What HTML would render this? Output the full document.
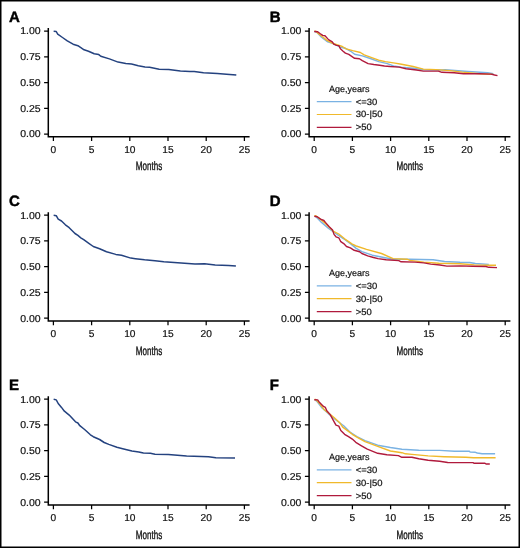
<!DOCTYPE html><html><head><meta charset="utf-8"><style>html,body{margin:0;padding:0;background:#fff;}svg{display:block;will-change:transform;text-rendering:geometricPrecision;}text{font-family:"Liberation Sans",sans-serif;fill:#111;stroke:#111;stroke-width:0.2px;}</style></head><body>
<svg width="520" height="548" viewBox="0 0 520 548">
<rect x="0" y="0" width="520" height="548" fill="#fff"/>
<g transform="translate(0,0)">
<path d="M48.3 28V136.8H249.6" fill="none" stroke="#000" stroke-width="1.5"/>
<path d="M44.1 31H48.3M44.1 56.75H48.3M44.1 82.5H48.3M44.1 108.25H48.3M44.1 134H48.3M53.4 136.8V141M91.6 136.8V141M129.8 136.8V141M168 136.8V141M206.2 136.8V141M244.4 136.8V141" fill="none" stroke="#000" stroke-width="1.25"/>
<text transform="translate(40.6,34.4) scale(1.05,1)" font-size="10" text-anchor="end">1.00</text>
<text transform="translate(40.6,60.15) scale(1.05,1)" font-size="10" text-anchor="end">0.75</text>
<text transform="translate(40.6,85.9) scale(1.05,1)" font-size="10" text-anchor="end">0.50</text>
<text transform="translate(40.6,111.65) scale(1.05,1)" font-size="10" text-anchor="end">0.25</text>
<text transform="translate(40.6,137.4) scale(1.05,1)" font-size="10" text-anchor="end">0.00</text>
<text transform="translate(53.4,153.2) scale(1.02,1)" font-size="10" text-anchor="middle">0</text>
<text transform="translate(91.6,153.2) scale(1.02,1)" font-size="10" text-anchor="middle">5</text>
<text transform="translate(129.8,153.2) scale(1.02,1)" font-size="10" text-anchor="middle">10</text>
<text transform="translate(168,153.2) scale(1.02,1)" font-size="10" text-anchor="middle">15</text>
<text transform="translate(206.2,153.2) scale(1.02,1)" font-size="10" text-anchor="middle">20</text>
<text transform="translate(244.4,153.2) scale(1.02,1)" font-size="10" text-anchor="middle">25</text>
<text transform="translate(149,170.4) scale(0.67,1)" font-size="12" text-anchor="middle" style="stroke-width:0.35px">Months</text>
<text x="9" y="21.9" font-size="15" font-weight="bold" fill="#000" style="fill:#000;stroke:#000;stroke-width:0.45px">A</text>
</g>
<g transform="translate(260.8,0)">
<path d="M48.3 28V136.8H249.6" fill="none" stroke="#000" stroke-width="1.5"/>
<path d="M44.1 31H48.3M44.1 56.75H48.3M44.1 82.5H48.3M44.1 108.25H48.3M44.1 134H48.3M53.4 136.8V141M91.6 136.8V141M129.8 136.8V141M168 136.8V141M206.2 136.8V141M244.4 136.8V141" fill="none" stroke="#000" stroke-width="1.25"/>
<text transform="translate(40.6,34.4) scale(1.05,1)" font-size="10" text-anchor="end">1.00</text>
<text transform="translate(40.6,60.15) scale(1.05,1)" font-size="10" text-anchor="end">0.75</text>
<text transform="translate(40.6,85.9) scale(1.05,1)" font-size="10" text-anchor="end">0.50</text>
<text transform="translate(40.6,111.65) scale(1.05,1)" font-size="10" text-anchor="end">0.25</text>
<text transform="translate(40.6,137.4) scale(1.05,1)" font-size="10" text-anchor="end">0.00</text>
<text transform="translate(53.4,153.2) scale(1.02,1)" font-size="10" text-anchor="middle">0</text>
<text transform="translate(91.6,153.2) scale(1.02,1)" font-size="10" text-anchor="middle">5</text>
<text transform="translate(129.8,153.2) scale(1.02,1)" font-size="10" text-anchor="middle">10</text>
<text transform="translate(168,153.2) scale(1.02,1)" font-size="10" text-anchor="middle">15</text>
<text transform="translate(206.2,153.2) scale(1.02,1)" font-size="10" text-anchor="middle">20</text>
<text transform="translate(244.4,153.2) scale(1.02,1)" font-size="10" text-anchor="middle">25</text>
<text transform="translate(149,170.4) scale(0.67,1)" font-size="12" text-anchor="middle" style="stroke-width:0.35px">Months</text>
<text x="9" y="21.9" font-size="15" font-weight="bold" fill="#000" style="fill:#000;stroke:#000;stroke-width:0.45px">B</text>
<text x="68.2" y="91.8" font-size="9">Age,years</text>
<path d="M56 101.7H90.7" stroke="#7ab2e3" stroke-width="1.2"/>
<text transform="translate(95,104.6) scale(1.05,1)" font-size="9">&lt;=30</text>
<path d="M56 114.5H90.7" stroke="#f0b92b" stroke-width="1.2"/>
<text transform="translate(95,117.4) scale(1.05,1)" font-size="9">30-|50</text>
<path d="M56 127.4H90.7" stroke="#b01a3c" stroke-width="1.2"/>
<text transform="translate(95,130.3) scale(1.05,1)" font-size="9">&gt;50</text>
</g>
<g transform="translate(0,184.2)">
<path d="M48.3 28V136.8H249.6" fill="none" stroke="#000" stroke-width="1.5"/>
<path d="M44.1 31H48.3M44.1 56.75H48.3M44.1 82.5H48.3M44.1 108.25H48.3M44.1 134H48.3M53.4 136.8V141M91.6 136.8V141M129.8 136.8V141M168 136.8V141M206.2 136.8V141M244.4 136.8V141" fill="none" stroke="#000" stroke-width="1.25"/>
<text transform="translate(40.6,34.4) scale(1.05,1)" font-size="10" text-anchor="end">1.00</text>
<text transform="translate(40.6,60.15) scale(1.05,1)" font-size="10" text-anchor="end">0.75</text>
<text transform="translate(40.6,85.9) scale(1.05,1)" font-size="10" text-anchor="end">0.50</text>
<text transform="translate(40.6,111.65) scale(1.05,1)" font-size="10" text-anchor="end">0.25</text>
<text transform="translate(40.6,137.4) scale(1.05,1)" font-size="10" text-anchor="end">0.00</text>
<text transform="translate(53.4,153.2) scale(1.02,1)" font-size="10" text-anchor="middle">0</text>
<text transform="translate(91.6,153.2) scale(1.02,1)" font-size="10" text-anchor="middle">5</text>
<text transform="translate(129.8,153.2) scale(1.02,1)" font-size="10" text-anchor="middle">10</text>
<text transform="translate(168,153.2) scale(1.02,1)" font-size="10" text-anchor="middle">15</text>
<text transform="translate(206.2,153.2) scale(1.02,1)" font-size="10" text-anchor="middle">20</text>
<text transform="translate(244.4,153.2) scale(1.02,1)" font-size="10" text-anchor="middle">25</text>
<text transform="translate(149,170.4) scale(0.67,1)" font-size="12" text-anchor="middle" style="stroke-width:0.35px">Months</text>
<text x="9" y="21.9" font-size="15" font-weight="bold" fill="#000" style="fill:#000;stroke:#000;stroke-width:0.45px">C</text>
</g>
<g transform="translate(260.8,184.2)">
<path d="M48.3 28V136.8H249.6" fill="none" stroke="#000" stroke-width="1.5"/>
<path d="M44.1 31H48.3M44.1 56.75H48.3M44.1 82.5H48.3M44.1 108.25H48.3M44.1 134H48.3M53.4 136.8V141M91.6 136.8V141M129.8 136.8V141M168 136.8V141M206.2 136.8V141M244.4 136.8V141" fill="none" stroke="#000" stroke-width="1.25"/>
<text transform="translate(40.6,34.4) scale(1.05,1)" font-size="10" text-anchor="end">1.00</text>
<text transform="translate(40.6,60.15) scale(1.05,1)" font-size="10" text-anchor="end">0.75</text>
<text transform="translate(40.6,85.9) scale(1.05,1)" font-size="10" text-anchor="end">0.50</text>
<text transform="translate(40.6,111.65) scale(1.05,1)" font-size="10" text-anchor="end">0.25</text>
<text transform="translate(40.6,137.4) scale(1.05,1)" font-size="10" text-anchor="end">0.00</text>
<text transform="translate(53.4,153.2) scale(1.02,1)" font-size="10" text-anchor="middle">0</text>
<text transform="translate(91.6,153.2) scale(1.02,1)" font-size="10" text-anchor="middle">5</text>
<text transform="translate(129.8,153.2) scale(1.02,1)" font-size="10" text-anchor="middle">10</text>
<text transform="translate(168,153.2) scale(1.02,1)" font-size="10" text-anchor="middle">15</text>
<text transform="translate(206.2,153.2) scale(1.02,1)" font-size="10" text-anchor="middle">20</text>
<text transform="translate(244.4,153.2) scale(1.02,1)" font-size="10" text-anchor="middle">25</text>
<text transform="translate(149,170.4) scale(0.67,1)" font-size="12" text-anchor="middle" style="stroke-width:0.35px">Months</text>
<text x="9" y="21.9" font-size="15" font-weight="bold" fill="#000" style="fill:#000;stroke:#000;stroke-width:0.45px">D</text>
<text x="68.2" y="91.8" font-size="9">Age,years</text>
<path d="M56 101.7H90.7" stroke="#7ab2e3" stroke-width="1.2"/>
<text transform="translate(95,104.6) scale(1.05,1)" font-size="9">&lt;=30</text>
<path d="M56 114.5H90.7" stroke="#f0b92b" stroke-width="1.2"/>
<text transform="translate(95,117.4) scale(1.05,1)" font-size="9">30-|50</text>
<path d="M56 127.4H90.7" stroke="#b01a3c" stroke-width="1.2"/>
<text transform="translate(95,130.3) scale(1.05,1)" font-size="9">&gt;50</text>
</g>
<g transform="translate(0,368.2)">
<path d="M48.3 28V136.8H249.6" fill="none" stroke="#000" stroke-width="1.5"/>
<path d="M44.1 31H48.3M44.1 56.75H48.3M44.1 82.5H48.3M44.1 108.25H48.3M44.1 134H48.3M53.4 136.8V141M91.6 136.8V141M129.8 136.8V141M168 136.8V141M206.2 136.8V141M244.4 136.8V141" fill="none" stroke="#000" stroke-width="1.25"/>
<text transform="translate(40.6,34.4) scale(1.05,1)" font-size="10" text-anchor="end">1.00</text>
<text transform="translate(40.6,60.15) scale(1.05,1)" font-size="10" text-anchor="end">0.75</text>
<text transform="translate(40.6,85.9) scale(1.05,1)" font-size="10" text-anchor="end">0.50</text>
<text transform="translate(40.6,111.65) scale(1.05,1)" font-size="10" text-anchor="end">0.25</text>
<text transform="translate(40.6,137.4) scale(1.05,1)" font-size="10" text-anchor="end">0.00</text>
<text transform="translate(53.4,153.2) scale(1.02,1)" font-size="10" text-anchor="middle">0</text>
<text transform="translate(91.6,153.2) scale(1.02,1)" font-size="10" text-anchor="middle">5</text>
<text transform="translate(129.8,153.2) scale(1.02,1)" font-size="10" text-anchor="middle">10</text>
<text transform="translate(168,153.2) scale(1.02,1)" font-size="10" text-anchor="middle">15</text>
<text transform="translate(206.2,153.2) scale(1.02,1)" font-size="10" text-anchor="middle">20</text>
<text transform="translate(244.4,153.2) scale(1.02,1)" font-size="10" text-anchor="middle">25</text>
<text transform="translate(149,170.4) scale(0.67,1)" font-size="12" text-anchor="middle" style="stroke-width:0.35px">Months</text>
<text x="9" y="21.9" font-size="15" font-weight="bold" fill="#000" style="fill:#000;stroke:#000;stroke-width:0.45px">E</text>
</g>
<g transform="translate(260.8,368.2)">
<path d="M48.3 28V136.8H249.6" fill="none" stroke="#000" stroke-width="1.5"/>
<path d="M44.1 31H48.3M44.1 56.75H48.3M44.1 82.5H48.3M44.1 108.25H48.3M44.1 134H48.3M53.4 136.8V141M91.6 136.8V141M129.8 136.8V141M168 136.8V141M206.2 136.8V141M244.4 136.8V141" fill="none" stroke="#000" stroke-width="1.25"/>
<text transform="translate(40.6,34.4) scale(1.05,1)" font-size="10" text-anchor="end">1.00</text>
<text transform="translate(40.6,60.15) scale(1.05,1)" font-size="10" text-anchor="end">0.75</text>
<text transform="translate(40.6,85.9) scale(1.05,1)" font-size="10" text-anchor="end">0.50</text>
<text transform="translate(40.6,111.65) scale(1.05,1)" font-size="10" text-anchor="end">0.25</text>
<text transform="translate(40.6,137.4) scale(1.05,1)" font-size="10" text-anchor="end">0.00</text>
<text transform="translate(53.4,153.2) scale(1.02,1)" font-size="10" text-anchor="middle">0</text>
<text transform="translate(91.6,153.2) scale(1.02,1)" font-size="10" text-anchor="middle">5</text>
<text transform="translate(129.8,153.2) scale(1.02,1)" font-size="10" text-anchor="middle">10</text>
<text transform="translate(168,153.2) scale(1.02,1)" font-size="10" text-anchor="middle">15</text>
<text transform="translate(206.2,153.2) scale(1.02,1)" font-size="10" text-anchor="middle">20</text>
<text transform="translate(244.4,153.2) scale(1.02,1)" font-size="10" text-anchor="middle">25</text>
<text transform="translate(149,170.4) scale(0.67,1)" font-size="12" text-anchor="middle" style="stroke-width:0.35px">Months</text>
<text x="9" y="21.9" font-size="15" font-weight="bold" fill="#000" style="fill:#000;stroke:#000;stroke-width:0.45px">F</text>
<text x="68.2" y="91.8" font-size="9">Age,years</text>
<path d="M56 101.7H90.7" stroke="#7ab2e3" stroke-width="1.2"/>
<text transform="translate(95,104.6) scale(1.05,1)" font-size="9">&lt;=30</text>
<path d="M56 114.5H90.7" stroke="#f0b92b" stroke-width="1.2"/>
<text transform="translate(95,117.4) scale(1.05,1)" font-size="9">30-|50</text>
<path d="M56 127.4H90.7" stroke="#b01a3c" stroke-width="1.2"/>
<text transform="translate(95,130.3) scale(1.05,1)" font-size="9">&gt;50</text>
</g>
<polyline points="53.65,31.25 56.25,31.5 57.7,34.1 62.5,37.5 67.3,40.9 73.1,44.2 77.9,45.7 84.1,49.8 88.5,51.2 94.2,53.8 98.8,54.6 100.8,56.3 109.4,58.9 118.1,62.1 125.8,63.5 131.5,64 138.3,65.7 145,66.9 149.6,67.3 159.2,69.2 168.8,69.6 180.4,70.9 190,71.5 194.2,71.5 203.5,72.7 217.3,73.5 226.5,74.2 236.3,75" fill="none" stroke="#24427f" stroke-width="1.5" stroke-linejoin="round" stroke-linecap="butt"/>
<polyline points="53.65,215.2 56.25,215.7 58.2,219.1 61.5,221 65.4,224.8 69.2,227.7 75,233.5 77.9,235.4 80.8,237.8 83.7,239.7 88.5,243.1 93.3,246.5 99.6,248.7 106.5,251.8 115.8,254.4 121.5,255.3 130.8,258.1 135.4,258.7 144.6,259.8 155,260.8 163.8,261.8 181.1,263 195,263.9 204.6,263.75 215.2,264.9 228.7,265.4 235.9,266.1" fill="none" stroke="#24427f" stroke-width="1.5" stroke-linejoin="round" stroke-linecap="butt"/>
<polyline points="53.65,399.2 56.25,399.9 58.2,403.5 61.5,407.4 64.4,411.2 69.2,415.1 75.5,421.8 77.9,423 79.8,425.7 84.6,429.5 90.4,434.8 93.3,436.7 99.6,439.5 104.2,442.5 108.8,444.4 116.9,447.3 122.7,448.7 131.9,451.1 138.8,451.9 143.4,453.1 150.4,453.3 155,454.2 168.3,454.6 186.6,456.1 208.5,456.8 215.8,457.7 235,457.9" fill="none" stroke="#24427f" stroke-width="1.5" stroke-linejoin="round" stroke-linecap="butt"/>
<polyline points="314.5,31.3 317.3,32.7 321.5,37.3 327.7,41.9 333.1,43.5 340.8,47.3 345,48.2 350.8,51.3 354.6,54.2 362.3,55.9 371,58.75 378.7,61.6 387.3,63.6 393.5,66 401.5,67.1 413.1,68.3 423.4,69.8 441.9,70 445,69.8 468.1,71.5 487.7,72.7 493.4,73.6" fill="none" stroke="#7ab2e3" stroke-width="1.4" stroke-linejoin="round" stroke-linecap="butt"/>
<polyline points="314.5,31.2 315.8,31.2 318.5,33.8 323.1,37.3 326.9,40.4 333.1,43.5 339.2,45.4 342.3,46.5 346.2,48.8 352.7,50.6 360.4,52.5 364.2,54.9 371,57.3 378.7,60.2 385.4,61.6 395,63.1 401.5,64.2 413.1,66.5 423.4,69.1 436.1,69.6 450,70.6 462.3,72.1 479.6,73.8 493.4,74.4" fill="none" stroke="#f0b92b" stroke-width="1.4" stroke-linejoin="round" stroke-linecap="butt"/>
<polyline points="314.2,31.5 317.7,31.8 320,33.5 322.7,35.4 325,35.8 328.5,39.6 332.3,41.9 333.8,44.1 336.5,45.4 338.8,45.6 340.4,48.8 343.1,51.2 345.4,53.1 348.8,54.4 354.6,58.3 359.4,58.75 362.3,60.7 368.1,63.6 373.8,64.5 379.6,65.2 384.4,66 390,66.5 399.2,67.1 406.1,68.8 416.5,70 423.4,71.1 438.4,71.1 441.9,72.3 454.2,72.7 463.5,73.8 479.6,73.8 491.1,74.1 494.6,75 497.5,75.6" fill="none" stroke="#b01a3c" stroke-width="1.4" stroke-linejoin="round" stroke-linecap="butt"/>
<polyline points="315,216 317.2,218.1 321.5,222.4 328.3,228.2 335,233 343.7,238.8 350.4,243.6 356.2,248.4 361.9,251.7 372.3,255.2 383.8,257.5 393.1,259.2 410,259.2 433.1,259.8 444.6,261.5 460,262.3 469.6,262.5 475.4,263.5 488.8,264.4" fill="none" stroke="#7ab2e3" stroke-width="1.4" stroke-linejoin="round" stroke-linecap="butt"/>
<polyline points="314.5,215.7 315.8,215.7 319.6,218.6 325.4,223.4 333.1,231.1 338.8,234 344.6,238.8 352.3,244.1 356.2,246 366.5,249.4 381.5,253.5 393.1,258.6 406.9,259.2 410,260.4 423.8,262.1 438.8,263.3 460,263.7 474.4,264.9 488.8,265.2 496,265.2" fill="none" stroke="#f0b92b" stroke-width="1.4" stroke-linejoin="round" stroke-linecap="butt"/>
<polyline points="314.3,216.2 317.2,216.7 320.6,219.1 323.9,220.5 325.4,222.4 329.2,226.75 332.6,230.1 334,234.4 336,236.8 338.8,237.8 340.8,241.7 343.7,243.6 346.5,246.5 350.4,247.9 354.2,250.3 359.6,251.7 361.9,253.5 367.7,255.8 373.5,257.5 378.1,258.6 386.1,259.8 398.8,260.6 401.1,261.8 415,262.1 423.8,262.9 430.8,264.1 440,265 446.9,266.1 460,265.9 472.5,266.2 486,266.5 488.8,267.3 497,267.6" fill="none" stroke="#b01a3c" stroke-width="1.4" stroke-linejoin="round" stroke-linecap="butt"/>
<polyline points="315,399.7 316.7,401.1 321.5,407.4 328.3,413.6 336.9,420.8 343.7,425.7 350.4,432.4 356.9,436.5 365,440.6 377.7,445.2 390.4,447.5 401.9,449.2 418.8,450.2 439.6,450.4 454.6,451.3 469.1,451.1 470.1,452 475.4,452.3 477.3,453 482.1,453.7 495.1,453.7" fill="none" stroke="#7ab2e3" stroke-width="1.4" stroke-linejoin="round" stroke-linecap="butt"/>
<polyline points="314.5,399.5 315.8,399.5 319.6,403.5 324.4,409.8 329.2,413.6 334,417.5 339.8,422.8 342.7,427.1 348.5,431.4 352.3,434.3 356.9,437.1 365,441.7 377.7,446.3 390.4,451 401.9,452.7 405.4,453.8 411.9,454.4 428.1,455.9 444.2,456.7 465.8,457.3 473.5,457.8 495.6,457.8" fill="none" stroke="#f0b92b" stroke-width="1.4" stroke-linejoin="round" stroke-linecap="butt"/>
<polyline points="314.3,399.7 317.7,399.9 319.6,402.6 323.5,406.4 325.4,407.4 326.8,410.75 330.2,414.6 333.6,420.8 336,425.2 338.8,426.1 340.8,430.5 344.6,434.3 348.5,436.7 352.3,439.1 355.8,442.3 361.5,445.8 367.3,449.2 377.7,453.3 386.9,454.8 398.4,455.6 401.9,457.3 411.9,457.3 418.8,458.7 428.1,460.2 439.6,461.3 447.7,462.5 473,462.6 473.9,463.3 485,463.3 486,464 489.8,464" fill="none" stroke="#b01a3c" stroke-width="1.4" stroke-linejoin="round" stroke-linecap="butt"/>
<rect x="0.75" y="0.75" width="518.5" height="546.5" fill="none" stroke="#000" stroke-width="1.5"/>
</svg></body></html>
